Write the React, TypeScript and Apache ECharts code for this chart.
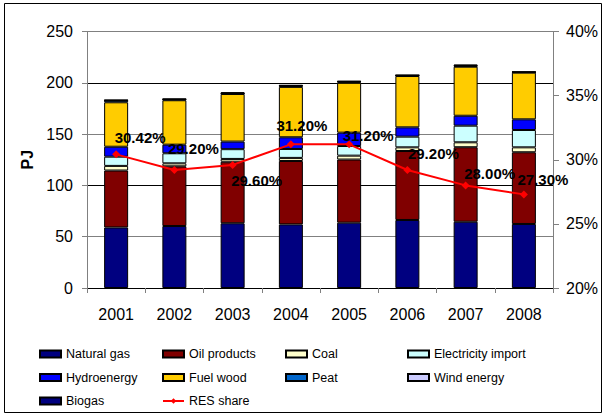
import React, { useEffect, useRef } from "react";
import * as echarts from "echarts";

const years = ["2001", "2002", "2003", "2004", "2005", "2006", "2007", "2008"];
const naturalGas = [59, 60.4, 63.1, 62, 63.7, 66.3, 64.6, 62.4];
const oilProducts = [55.5, 58.2, 60, 61.8, 61.5, 67.2, 72.6, 69.9];
const coal = [4.5, 2.9, 2.7, 3, 3.8, 3.6, 4.8, 4.8];
const electricityImport = [9, 9.8, 9.5, 8.7, 9.4, 10.4, 16.2, 16.9];
const hydroenergy = [9.7, 8.4, 7.4, 11.4, 13, 9.1, 9.7, 10.4];
const fuelWood = [43.3, 43.3, 46.4, 49.1, 48.6, 50, 47.8, 45.5];
const peat = [1.8, 0.8, 0.6, 1.0, 1.0, 0.5, 0.8, 0.4];
const windEnergy = [0.1, 0.1, 0.1, 0.1, 0.2, 0.2, 0.3, 0.2];
const biogas = [0.4, 0.6, 1.0, 0.8, 0.6, 0.3, 0.9, 0.3];
const resShare = [30.42, 29.2, 29.6, 31.2, 31.2, 29.2, 28.0, 27.3];

const leftTicks = { min: 0, max: 250, interval: 50 };
const rightTicks = { min: 20, max: 40, interval: 5 };

// label placement (style): offsets from each point
const labelOffsets = [
  [24, -17], [19, -22], [24, 16], [11, -19], [19, -9], [26, -17], [24, -12], [19, -15],
];

const FONT = "'Liberation Sans', Arial, sans-serif";

export default function App() {
  const ref = useRef<HTMLDivElement>(null);
  useEffect(() => {
    document.body.style.margin = "0";
    const chart = echarts.init(ref.current!, null, { renderer: "svg" });
    const barSeries = [
      { name: "Natural gas", data: naturalGas, color: "#000080" },
      { name: "Oil products", data: oilProducts, color: "#800000" },
      { name: "Coal", data: coal, color: "#FFFFCC" },
      { name: "Electricity import", data: electricityImport, color: "#CCFFFF" },
      { name: "Hydroenergy", data: hydroenergy, color: "#0000FF" },
      { name: "Fuel wood", data: fuelWood, color: "#FFCC00" },
      { name: "Peat", data: peat, color: "#0066CC" },
      { name: "Wind energy", data: windEnergy, color: "#CCCCFF" },
      { name: "Biogas", data: biogas, color: "#000080" },
    ].map((s) => ({
      name: s.name,
      type: "bar",
      stack: "total",
      barWidth: 24,
      data: s.data,
      itemStyle: { color: s.color, borderColor: "#000", borderWidth: 1 },
    }));

    const legendBase = {
      orient: "vertical",
      itemWidth: 21,
      itemHeight: 7,
      itemGap: 9.5,
      top: 347,
      padding: 0,
      textStyle: { fontFamily: FONT, fontSize: 12.5, color: "#000", lineHeight: 14 },
      selectedMode: false,
    };
    const item = (name: string) => ({ name, icon: "rect" });

    chart.setOption({
      animation: false,
      backgroundColor: "#fff",
      grid: { left: 87, right: 53, top: 31.5, bottom: 128 },
      graphic: [
        {
          type: "rect",
          shape: { x: 4.5, y: 3.5, width: 597, height: 409 },
          style: { fill: "none", stroke: "#000", lineWidth: 1 },
          z: 100,
        },
      ],
      legend: [
        { ...legendBase, left: 39, data: [item("Natural gas"), item("Hydroenergy"), item("Biogas")] },
        { ...legendBase, left: 162, data: [item("Oil products"), item("Fuel wood"), { name: "RES share" }] },
        { ...legendBase, left: 285, data: [item("Coal"), item("Peat")] },
        { ...legendBase, left: 407, data: [item("Electricity import"), item("Wind energy")] },
      ],
      xAxis: {
        type: "category",
        data: years,
        axisLine: { lineStyle: { color: "#000", width: 1 } },
        axisTick: { show: true, length: 5, lineStyle: { color: "#808080" } },
        axisLabel: { fontFamily: FONT, fontSize: 16, color: "#000", margin: 18 },
      },
      yAxis: [
        {
          type: "value",
          ...leftTicks,
          name: "PJ",
          nameLocation: "middle",
          nameRotate: 90,
          nameGap: 50,
          nameTextStyle: { fontFamily: FONT, fontSize: 16, fontWeight: "bold", color: "#000" },
          axisLine: { show: true, lineStyle: { color: "#808080" } },
          axisTick: { show: true, length: 5, lineStyle: { color: "#808080" } },
          axisLabel: { fontFamily: FONT, fontSize: 16, color: "#000", margin: 14 },
          splitLine: { show: true, lineStyle: { color: ["#000", "#808080"], width: 1 } },
        },
        {
          type: "value",
          ...rightTicks,
          position: "right",
          axisLine: { show: true, lineStyle: { color: "#808080" } },
          axisTick: { show: true, length: 6, lineStyle: { color: "#808080" } },
          axisLabel: {
            fontFamily: FONT,
            fontSize: 16,
            color: "#000",
            margin: 13,
            formatter: "{value}%",
          },
          splitLine: { show: false },
        },
      ],
      series: [
        ...barSeries,
        {
          name: "RES share",
          type: "line",
          yAxisIndex: 1,
          data: resShare.map((v, i) => ({
            value: v,
            label: { offset: labelOffsets[i] },
          })),
          symbol: "diamond",
          symbolSize: 8,
          itemStyle: { color: "#FF0000" },
          lineStyle: { color: "#FF0000", width: 2 },
          z: 10,
          label: {
            show: true,
            position: "inside",
            formatter: (p: any) => p.value.toFixed(2) + "%",
            fontFamily: "'Liberation Sans Narrow', " + FONT,
            fontWeight: "bold",
            fontSize: 15,
            color: "#000",
          },
        },
      ],
    });
    return () => chart.dispose();
  }, []);
  return <div ref={ref} style={{ width: 606, height: 416 }} />;
}
